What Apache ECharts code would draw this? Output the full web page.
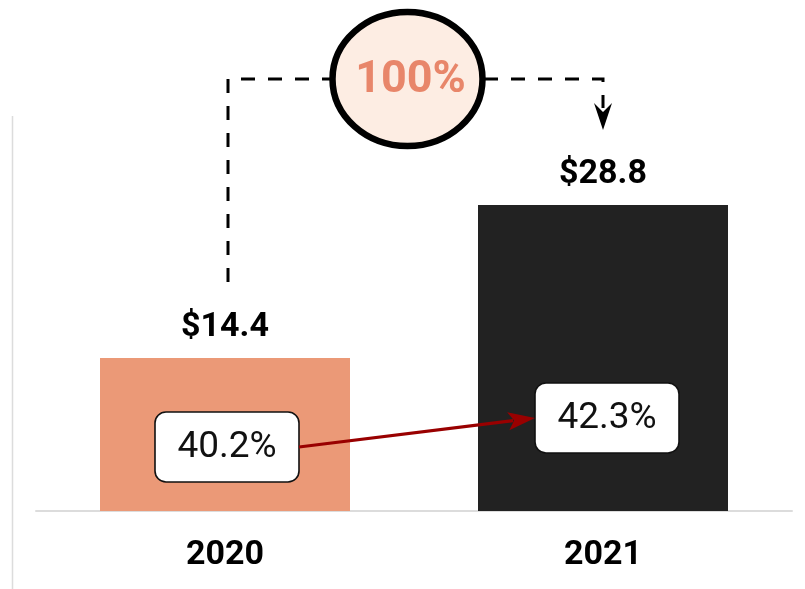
<!DOCTYPE html>
<html>
<head>
<meta charset="utf-8">
<script src="https://cdn.jsdelivr.net/npm/echarts@6/dist/echarts.min.js"></script>
<style>html,body{margin:0;padding:0;background:#fff}#c{width:805px;height:589px}</style>
</head>
<body>
<div id="c"></div>
<script>
const categories = ['2020', '2021'];
const revenue = [14.4, 28.8];
const revenueLabels = ['$14.4', '$28.8'];
const marginLabels = ['40.2%', '42.3%'];
const growthLabel = '100%';

const FONT = 'Roboto, "Noto Sans", sans-serif';
const chart = echarts.init(document.getElementById('c'));

function arrowHead(tip, from, len, half, notch) {
  const dx = tip[0] - from[0], dy = tip[1] - from[1];
  const d = Math.sqrt(dx * dx + dy * dy);
  const ux = dx / d, uy = dy / d, px = -uy, py = ux;
  const bx = tip[0] - ux * len, by = tip[1] - uy * len;
  const nx = tip[0] - ux * (len - notch), ny = tip[1] - uy * (len - notch);
  return [[bx + px * half, by + py * half], [nx, ny], [bx - px * half, by - py * half], [tip[0], tip[1]]];
}

function renderItem(params, api) {
  const i = params.dataIndex;
  const boxRise = [64, 93];
  const boxShift = [2, 4];
  const boxW = 144, boxH = 70;
  function boxCenter(k) {
    const b = api.coord([k, 0]);
    return [b[0] + boxShift[k], b[1] - boxRise[k]];
  }
  const c = boxCenter(i);
  const children = [
    { type: 'rect', shape: { x: c[0] - boxW / 2, y: c[1] - boxH / 2, width: boxW, height: boxH, r: 11 },
      style: { fill: '#fff', stroke: '#111', lineWidth: 1.6 } },
    { type: 'text', style: { x: c[0], y: c[1] + 1, text: marginLabels[i], font: '37px ' + FONT, fill: '#111', align: 'center', verticalAlign: 'middle' } }
  ];
  if (i === 1) {
    const c0 = boxCenter(0);
    const start = [c0[0] + boxW / 2, c0[1]];
    const end = [c[0] - boxW / 2, c[1]];
    const head = arrowHead(end, start, 27, 9, 6);
    const dx = end[0] - start[0], dy = end[1] - start[1], d = Math.sqrt(dx * dx + dy * dy);
    const lineEnd = [end[0] - dx / d * 22, end[1] - dy / d * 22];
    children.push(
      { type: 'line', shape: { x1: start[0], y1: start[1], x2: lineEnd[0], y2: lineEnd[1] }, style: { stroke: '#990000', lineWidth: 3.2 } },
      { type: 'polygon', shape: { points: head }, style: { fill: '#990000' } }
    );
    // bracket
    const t0 = api.coord([0, revenue[0]]);
    const t1 = api.coord([1, revenue[1]]);
    const lx = t0[0] + 3, rx = t1[0];
    const ly = t0[1] - 76, ry = t1[1] - 75;
    const hy = 79;
    children.push(
      { type: 'polyline', shape: { points: [[lx, ly], [lx, hy], [rx, hy], [rx, ry - 22]] },
        style: { stroke: '#000', lineWidth: 3, lineDash: [14, 13], fill: null } },
      { type: 'polygon', shape: { points: [[rx - 9, ry - 27], [rx, ry - 18], [rx + 9, ry - 27], [rx, ry]] }, style: { fill: '#000' } }
    );
    const ecx = (lx + rx) / 2 - 8;
    children.push(
      { type: 'ellipse', shape: { cx: ecx, cy: hy, rx: 75, ry: 67 }, style: { fill: '#fdede3', stroke: '#000', lineWidth: 6.5 } },
      { type: 'text', style: { x: ecx + 3, y: hy + 2, text: growthLabel, font: 'bold 45px ' + FONT, fill: '#e8866a', align: 'center', verticalAlign: 'middle' } }
    );
  }
  return { type: 'group', children: children };
}

chart.setOption({
  animation: false,
  grid: { left: 36, right: 13, top: 86, bottom: 78 },
  xAxis: {
    type: 'category', data: categories,
    axisLine: { show: true, lineStyle: { color: '#dcdcdc', width: 2 } },
    axisTick: { show: false },
    axisLabel: { margin: 27, fontFamily: FONT, fontWeight: 'bold', fontSize: 34, color: '#000' }
  },
  yAxis: { type: 'value', min: 0, max: 40, show: false, splitLine: { show: false } },
  graphic: [
    { type: 'line', shape: { x1: 12.5, y1: 116, x2: 12.5, y2: 589 }, style: { stroke: '#dcdcdc', lineWidth: 1.5 }, silent: true }
  ],
  series: [
    {
      type: 'bar', barWidth: 250,
      data: revenue.map((v, i) => ({ value: v, itemStyle: { color: i === 0 ? '#eb9977' : '#222222' } })),
      label: {
        show: true, position: 'top', distance: 14,
        formatter: p => revenueLabels[p.dataIndex],
        fontFamily: FONT, fontWeight: 'bold', fontSize: 34, color: '#000'
      }
    },
    {
      type: 'custom', clip: false, z: 5,
      data: revenue.map((v, i) => [i, v]),
      renderItem: renderItem
    }
  ]
});
</script>
</body>
</html>
